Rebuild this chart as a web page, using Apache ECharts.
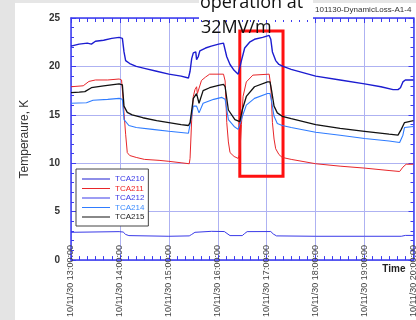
<!DOCTYPE html>
<html>
<head>
<meta charset="utf-8">
<script src="https://cdn.jsdelivr.net/npm/echarts@6/dist/echarts.min.js"></script>
<style>
html,body{margin:0;padding:0;background:#fff;overflow:hidden;width:416px;height:320px;}
#c{width:418px;height:320px;}
</style>
</head>
<body>
<div id="c"></div>
<script>
// ---- data (times as HH:MM on 2010-11-30) ----
const seriesNames = ['TCA210','TCA211','TCA212','TCA214','TCA215'];
const xTickLabels = ['10/11/30 13:00:00','10/11/30 14:00:00','10/11/30 15:00:00','10/11/30 16:00:00','10/11/30 17:00:00','10/11/30 18:00:00','10/11/30 19:00:00','10/11/30 20:00:00'];

const t210 = ['13:00','13:10','13:20','13:25','13:30','13:40','13:50','13:59','14:03','14:05','14:07','14:12','14:20','14:30','14:45','15:00','15:15','15:24','15:26','15:28','15:30','15:33','15:34','15:36','15:38','15:45','15:52','16:01','16:07','16:09','16:11','16:15','16:20','16:25','16:27','16:29','16:33','16:39','16:45','16:55','17:03','17:05','17:07','17:11','17:15','17:20','17:30','18:00','18:30','19:00','19:20','19:35','19:41','19:44','19:47','19:50','20:00'];
const v210 = [22.1,22.3,22.4,22.3,22.6,22.7,22.9,23.0,22.9,21.5,20.6,20.3,20.0,19.8,19.5,19.2,19.0,18.8,19.5,20.8,21.4,21.5,20.7,21.0,21.6,21.9,22.1,22.3,22.4,22.2,21.0,20.2,19.6,19.2,19.4,20.6,21.9,22.5,22.8,23.0,23.2,22.8,21.5,20.6,20.2,20.0,19.7,19.0,18.6,18.2,17.9,17.6,17.6,17.8,18.4,18.6,18.6];

const t211 = ['13:00','13:15','13:17','13:22','13:30','13:45','13:59','14:02','14:04','14:05','14:07','14:09','14:12','14:20','14:30','14:48','15:00','15:15','15:25','15:26','15:28','15:30','15:32','15:34','15:35','15:37','15:40','15:45','15:50','16:07','16:09','16:11','16:13','16:15','16:20','16:25','16:27','16:29','16:31','16:35','16:43','17:03','17:05','17:07','17:09','17:11','17:15','17:19','17:30','18:00','18:30','19:00','19:30','19:43','19:47','19:51','20:00'];
const v211 = [17.9,18.0,18.05,18.45,18.6,18.6,18.7,18.6,16.5,15.2,13.0,11.1,10.8,10.6,10.4,10.3,10.2,10.05,9.95,10.5,14.5,16.9,17.6,17.9,17.2,17.4,18.55,18.9,19.2,19.2,18.5,14.2,12.2,11.1,10.7,10.5,11.0,14.0,16.9,18.4,19.1,19.2,18.0,14.2,12.5,11.5,10.9,10.6,10.4,9.95,9.7,9.5,9.25,9.15,9.6,9.9,9.9];

const t212 = ['13:00','13:59','14:04','14:07','14:11','15:00','15:25','15:28','15:32','15:52','16:08','16:10','16:15','16:30','16:33','16:36','17:05','17:08','17:12','18:00','19:00','19:45','19:50','20:00'];
const v212 = [2.87,2.94,2.9,2.65,2.53,2.46,2.5,2.65,2.87,2.97,2.95,2.75,2.53,2.53,2.75,2.94,2.95,2.7,2.5,2.46,2.46,2.46,2.55,2.55];

const t214 = ['13:00','13:19','13:27','13:45','13:59','14:03','14:05','14:11','14:20','14:40','15:00','15:24','15:26','15:30','15:34','15:37','15:42','15:55','16:05','16:09','16:13','16:20','16:25','16:27','16:30','16:35','16:45','17:01','17:04','17:06','17:09','17:13','17:19','17:30','18:00','18:30','19:00','19:30','19:43','19:47','19:49','20:00'];
const v214 = [16.2,16.25,16.5,16.6,16.7,16.6,14.5,13.9,13.7,13.5,13.3,13.1,13.3,15.9,15.9,15.2,16.2,16.6,16.8,16.6,14.5,13.8,13.5,13.6,14.8,16.0,16.7,17.2,17.2,16.4,14.85,14.1,13.9,13.7,13.2,12.9,12.55,12.3,12.15,12.9,13.7,13.8];

const t215 = ['13:00','13:10','13:17','13:25','13:40','13:59','14:03','14:05','14:09','14:15','14:28','14:45','15:00','15:15','15:24','15:26','15:30','15:34','15:37','15:42','15:50','16:01','16:07','16:09','16:13','16:21','16:27','16:30','16:35','16:45','17:01','17:04','17:06','17:09','17:13','17:19','17:30','18:00','18:30','19:00','19:30','19:41','19:45','19:49','20:00'];
const v215 = [17.3,17.35,17.4,17.8,18.0,18.2,18.1,15.9,15.25,15.0,14.7,14.4,14.2,14.0,13.9,14.2,16.7,17.2,16.2,17.5,17.8,18.05,18.15,17.9,15.5,14.5,14.3,15.5,16.9,17.9,18.4,18.4,17.5,15.9,15.2,14.85,14.6,14.0,13.6,13.3,13.0,12.9,13.5,14.2,14.4];

// highlighted box (time range, temperature range)
const boxTimes = ['16:27','17:20'];
const boxTemps = [8.65, 23.65];

// ---- build ----
function toMin(s){ const p = s.split(':').map(Number); return (p[0]-13)*60 + p[1]; }
function pairs(ts, vs){ return ts.map((t,i)=>[toMin(t), vs[i]]); }

const lineColors = {TCA210:'#1c1cd0', TCA211:'#e8262a', TCA212:'#3a3ae8', TCA214:'#2f7cff', TCA215:'#111111'};
const lineWidths = {TCA210:1.4, TCA211:1, TCA212:1, TCA214:1.1, TCA215:1.3};
const textColors = {TCA210:'#3a3ae6', TCA211:'#ee2222', TCA212:'#3a3ae6', TCA214:'#3d8cff', TCA215:'#222222'};
const dataMap = {TCA210:pairs(t210,v210), TCA211:pairs(t211,v211), TCA212:pairs(t212,v212), TCA214:pairs(t214,v214), TCA215:pairs(t215,v215)};

const frame = '#3b3bf0';
const FONT = 'Liberation Sans, Arial, sans-serif';

const series = seriesNames.map(n => ({
  name:n, type:'line', data:dataMap[n], symbol:'none', showSymbol:false,
  xAxisIndex:0, yAxisIndex:0,
  lineStyle:{color:lineColors[n], width:lineWidths[n]},
  itemStyle:{color:lineColors[n]},
  z:2
}));
series[series.length-1].markArea = {
  silent:true,
  itemStyle:{color:'rgba(0,0,0,0)', borderColor:'#ff1010', borderWidth:3},
  data:[[{xAxis:toMin(boxTimes[0]), yAxis:boxTemps[0]},{xAxis:toMin(boxTimes[1]), yAxis:boxTemps[1]}]]
};
series[series.length-1].z = 3;

function frameAxis(extra){
  return Object.assign({
    axisLine:{show:true, onZero:false, lineStyle:{color:frame, width:1.5}},
    axisTick:{show:true, inside:true, length:5, lineStyle:{color:frame, width:1}},
    splitLine:{show:false},
    axisLabel:{show:false}
  }, extra);
}

const chart = echarts.init(document.getElementById('c'), null, {renderer:'canvas'});
chart.setOption({
  animation:false,
  backgroundColor:'#ffffff',
  textStyle:{fontFamily:FONT},
  grid:{left:71, right:0, top:18, bottom:55, containLabel:false},
  xAxis:[
    frameAxis({type:'value', min:0, max:420, interval:60, position:'bottom',
      minorTick:{show:true, splitNumber:6, length:4, lineStyle:{color:frame}},
      splitLine:{show:true, lineStyle:{color:'#aeb2f2', width:1}},
      axisLabel:{show:true, rotate:90, margin:-15, fontSize:9, color:'#444', fontFamily:FONT,
        formatter:v=>xTickLabels[Math.round(v/60)], showMinLabel:true, showMaxLabel:true, hideOverlap:false},
      name:'Time', nameLocation:'end', nameGap:-8,
      nameTextStyle:{fontSize:10, fontWeight:'bold', color:'#222', align:'right', verticalAlign:'top', padding:[4,0,0,0], fontFamily:FONT}
    }),
    frameAxis({type:'value', min:0, max:420, interval:60, position:'top',
      minorTick:{show:true, splitNumber:6, length:4, lineStyle:{color:frame}}})
  ],
  yAxis:[
    frameAxis({type:'value', min:0, max:25, interval:5, position:'left',
      minorTick:{show:true, splitNumber:5, length:3, lineStyle:{color:frame}},
      splitLine:{show:true, lineStyle:{color:'#aeb2f2', width:1}},
      axisLabel:{show:true, fontSize:10, fontWeight:'bold', color:'#333', margin:11, fontFamily:FONT},
      name:'Temperaure, K', nameLocation:'middle', nameGap:40,
      nameTextStyle:{fontSize:12, color:'#333', fontFamily:FONT}
    }),
    frameAxis({type:'value', min:0, max:25, interval:5, position:'right',
      minorTick:{show:true, splitNumber:5, length:3, lineStyle:{color:frame}}})
  ],
  legend:{
    orient:'vertical', left:76, top:169,
    backgroundColor:'#ffffff', borderColor:'#444', borderWidth:1, borderRadius:0,
    padding:[6,4,5,6], itemWidth:28, itemHeight:1, itemGap:1.5, icon:'rect',
    textStyle:{fontSize:8, lineHeight:8, fontFamily:FONT},
    data:seriesNames.map(n=>({name:n, textStyle:{color:textColors[n]}}))
  },
  graphic:[
    {type:'rect', shape:{x:0, y:0, width:15, height:320}, style:{fill:'#e4e4e4'}, z:100},
    {type:'rect', shape:{x:15, y:0, width:403, height:3}, style:{fill:'#e6e6e6'}, z:100},
    {type:'rect', shape:{x:199, y:0, width:114, height:20}, style:{fill:'#ffffff'}, z:101},
    {type:'text', z:102, style:{text:'operation at', x:200, y:3, verticalAlign:'middle', font:'18px "Open Sans"', fill:'#111'}},
    {type:'text', z:102, style:{text:'32MV/m', x:201, y:28, verticalAlign:'middle', font:'18px "Open Sans"', fill:'#111'}},
    {type:'text', z:102, style:{text:'101130-DynamicLoss-A1-4', x:315, y:10, verticalAlign:'middle', font:'8px "Liberation Sans"', fill:'#333'}}
  ],
  series:series
});
</script>
</body>
</html>
